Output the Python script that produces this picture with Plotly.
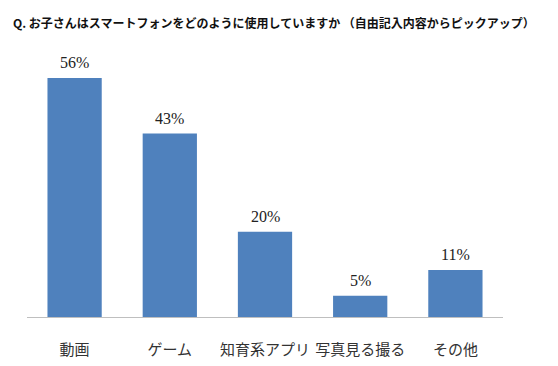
import plotly.graph_objects as go

categories = ["動画", "ゲーム", "知育系アプリ", "写真見る撮る", "その他"]
values = [56, 43, 20, 5, 11]
labels = ["56%", "43%", "20%", "5%", "11%"]
title_text = "Q. お子さんはスマートフォンをどのように使用していますか （自由記入内容からピックアップ）"

fig = go.Figure(go.Bar(
    x=categories, y=values,
    marker=dict(color="#4f81bd", line=dict(width=0)),
    hoverinfo="skip",
))

for c, v, t in zip(categories, values, labels):
    fig.add_annotation(
        x=c, y=v, text=t, showarrow=False, xanchor="center", yanchor="bottom", yshift=5,
        font=dict(family="Liberation Serif, DejaVu Serif, serif", size=16, color="#222222"),
    )

fig.update_layout(
    width=558, height=366,
    margin=dict(l=27, r=55, t=61, b=49, autoexpand=False),
    paper_bgcolor="white", plot_bgcolor="white",
    bargap=0.43,
    showlegend=False,
    title=dict(
        text="<b>" + title_text + "</b>",
        x=13 / 558, xanchor="left", xref="container",
        y=1 - 24 / 366, yanchor="middle", yref="container",
        font=dict(family="Noto Sans CJK JP, sans-serif", size=12, color="#111111"),
    ),
    xaxis=dict(
        showline=True, linecolor="#bfbfbf", linewidth=1,
        ticks="outside", ticklen=19, tickcolor="rgba(0,0,0,0)",
        tickfont=dict(family="Noto Sans CJK JP, sans-serif", size=15, color="#333333"),
        showgrid=False, zeroline=False, automargin=False,
    ),
    yaxis=dict(range=[0, 60], visible=False, showgrid=False, zeroline=False, automargin=False),
)

fig.write_html(
    "out.html",
    config={"displayModeBar": False, "staticPlot": True},
    post_script="document.body.style.margin='0';document.body.style.overflow='hidden';",
)
